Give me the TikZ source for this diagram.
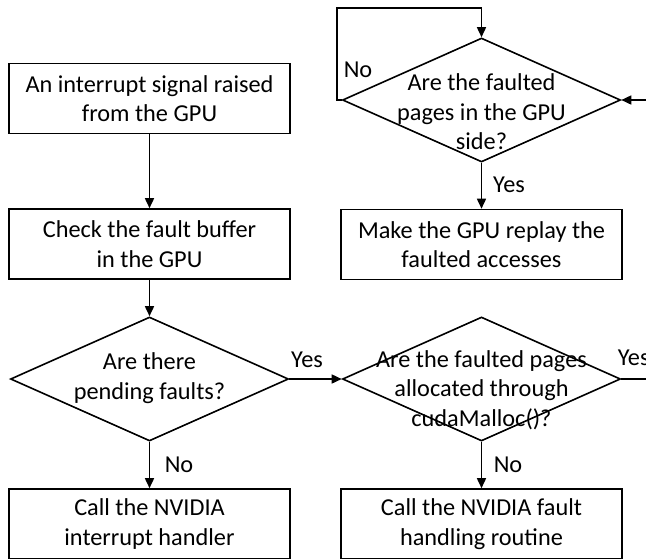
\documentclass[tikz,border=0pt]{standalone}
\usepackage{fontspec}
\setmainfont{Carlito}
\usetikzlibrary{shapes.geometric,arrows.meta}
\begin{document}
\begin{tikzpicture}[x=1pt, y=-1pt, line width=1.6pt,
  txt/.style={font=\fontsize{24.3}{29.5}\selectfont},
  box/.style={txt, draw, rectangle, minimum width=281pt, minimum height=70pt,
              inner sep=0pt, align=center},
  decision/.style={draw, diamond, minimum width=278pt, minimum height=124pt,
              inner sep=0pt},
  dtext/.style={txt, align=center, inner sep=0pt},
  lbl/.style={txt, inner sep=0pt},
  flow/.style={-{Triangle[length=10pt,width=9pt]}}]
  \useasboundingbox (0,0) rectangle (646,558);

  % left column
  \node[box] (b1) at (149.5,98.5) {An interrupt signal raised\\from the GPU};
  \node[box] (b2) at (149.5,244) {Check the fault buffer\\in the GPU};
  \node[decision] (d1) at (149.5,379) {};
  \node[dtext] (t1) at (149.5,378) {Are there\\pending faults?};
  \node[box] (b3) at (149.5,524) {Call the NVIDIA\\interrupt handler};

  % right column
  \node[decision] (d3) at (481.5,100) {};
  \node[dtext] (t3) at (481.5,112) {Are the faulted\\pages in the GPU\\side?};
  \node[box] (b5) at (481.5,244.5) {Make the GPU replay the\\faulted accesses};
  \node[decision] (d2) at (481.5,379) {};
  \node[dtext] (t2) at (481.5,390) {Are the faulted pages\\allocated through\\cudaMalloc()?};
  \node[box] (b4) at (481.5,524) {Call the NVIDIA fault\\handling routine};

  % loose ends and loop corner
  \coordinate (loopL) at (337,8);
  \coordinate (in3) at (646,100);
  \coordinate (out2) at (646,379);

  % connectors
  \draw[flow] (b1) -- (b2);
  \draw[flow] (b2) -- (d1);
  \draw[flow] (d1) -- (b3);
  \draw[flow] (d1.east) -- (d2.west);
  \draw[flow] (d2) -- (b4);
  \draw (d2.east) -- (out2);
  \draw[flow] (d3) -- (b5);
  \draw[flow] (d3.west) -| (loopL) -| (d3.north);
  \draw[flow] (in3) -- (d3.east);

  % branch labels
  \node[lbl] (l1) at (358,70) {No};
  \node[lbl] (l2) at (509,185) {Yes};
  \node[lbl] (l3) at (307,360) {Yes};
  \node[lbl, anchor=west] (l4) at (617,358) {Yes};
  \node[lbl] (l5) at (179,465) {No};
  \node[lbl] (l6) at (508,465) {No};
\end{tikzpicture}
\end{document}
